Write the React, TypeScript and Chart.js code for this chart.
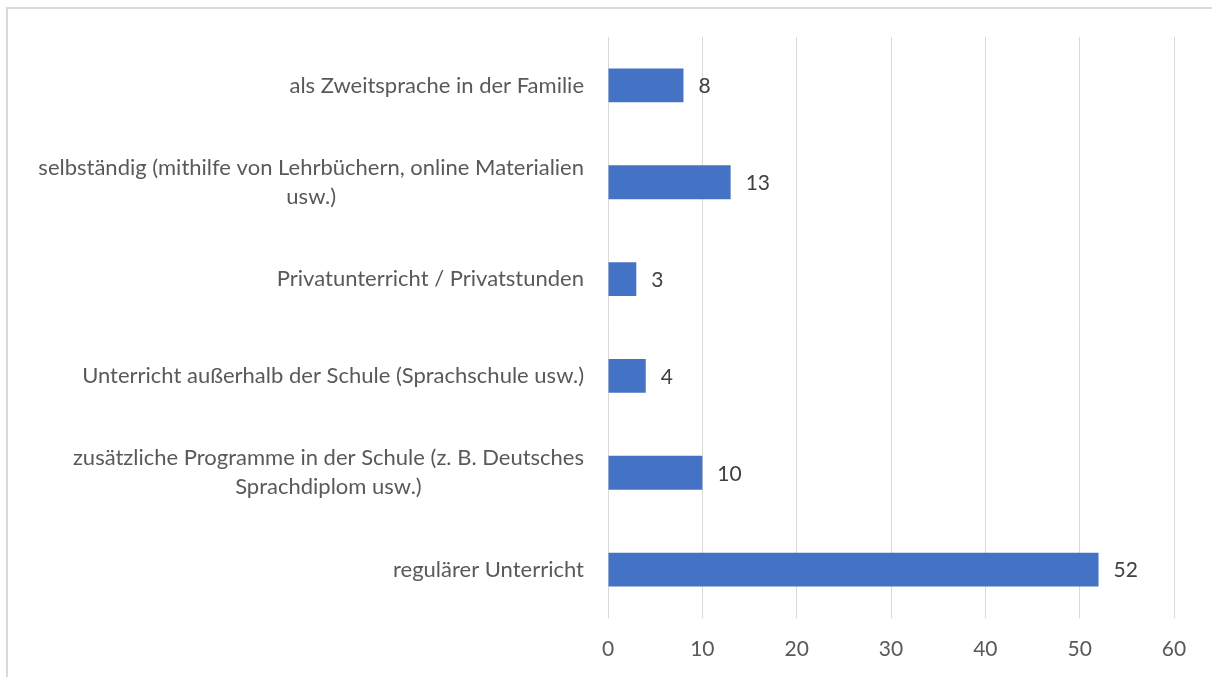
import React, { useEffect, useRef } from "react";
import { Chart, registerables } from "chart.js";

Chart.register(...registerables);

const categories: string[][] = [
  ["als Zweitsprache in der Familie"],
  ["selbständig (mithilfe von Lehrbüchern, online Materialien", "usw.)"],
  ["Privatunterricht / Privatstunden"],
  ["Unterricht außerhalb der Schule (Sprachschule usw.)"],
  ["zusätzliche Programme in der Schule (z. B. Deutsches", "Sprachdiplom usw.)"],
  ["regulärer Unterricht"],
];
const values: number[] = [8, 13, 3, 4, 10, 52];
const xTicks: number[] = [0, 10, 20, 30, 40, 50, 60];

const FONT = "Lato, 'Open Sans', sans-serif";
const LABEL_SIZE = 22;
const LINE_GAP = 29;

const valueLabels = {
  id: "valueLabels",
  afterDatasetsDraw(chart: any) {
    const ctx = chart.ctx;
    const meta = chart.getDatasetMeta(0);
    ctx.save();
    ctx.font = `21px ${FONT}`;
    ctx.fillStyle = "#404040";
    ctx.textAlign = "left";
    ctx.textBaseline = "middle";
    meta.data.forEach((bar: any, i: number) => {
      ctx.fillText(String(values[i]), bar.x + 15, bar.y + 1);
    });
    ctx.restore();
  },
};

const categoryLabels = {
  id: "categoryLabels",
  afterDraw(chart: any) {
    const ctx = chart.ctx;
    const yScale = chart.scales.y;
    const right = chart.chartArea.left - 24;
    ctx.save();
    ctx.font = `${LABEL_SIZE}px ${FONT}`;
    ctx.fillStyle = "#595959";
    ctx.textAlign = "center";
    ctx.textBaseline = "middle";
    categories.forEach((lines, i) => {
      const yc = yScale.getPixelForTick(i);
      const maxW = Math.max(...lines.map((l) => ctx.measureText(l).width));
      const cx = right - maxW / 2;
      const y0 = yc - ((lines.length - 1) * LINE_GAP) / 2;
      lines.forEach((l, j) => ctx.fillText(l, cx, y0 + j * LINE_GAP));
    });
    ctx.restore();
  },
};

export default function App() {
  const ref = useRef<HTMLCanvasElement>(null);
  useEffect(() => {
    if (!ref.current) return;
    const chart = new Chart(ref.current, {
      type: "bar",
      data: {
        labels: categories.map((c) => c.join(" ")),
        datasets: [
          {
            data: values,
            backgroundColor: "#4472C4",
            barPercentage: 0.35,
            categoryPercentage: 1,
          },
        ],
      },
      options: {
        indexAxis: "y",
        animation: false,
        responsive: false,
        maintainAspectRatio: false,
        layout: { padding: { left: 0, right: 38, top: 37, bottom: 0 } },
        plugins: {
          legend: { display: false },
          tooltip: { enabled: false },
        },
        scales: {
          x: {
            min: 0,
            max: 60,
            afterBuildTicks(scale: any) {
              scale.ticks = xTicks.map((v) => ({ value: v }));
            },
            afterFit(scale: any) {
              scale.height = 59;
            },
            grid: { color: "#d9d9d9", lineWidth: 1, drawTicks: false },
            border: { display: false },
            ticks: {
              padding: 19,
              color: "#595959",
              font: { family: FONT, size: 21 },
            },
          },
          y: {
            afterFit(scale: any) {
              scale.width = 608;
            },
            grid: { display: false, drawTicks: false },
            border: { display: false },
            ticks: { display: false },
          },
        },
      },
      plugins: [valueLabels, categoryLabels],
    });
    return () => chart.destroy();
  }, []);

  return (
    <div style={{ position: "fixed", left: 0, top: 0, width: 1212, height: 677, overflow: "hidden", background: "#fff" }}>
      <div
        style={{
          position: "absolute",
          left: 6,
          top: 7,
          width: 1300,
          height: 800,
          borderLeft: "2px solid #d9d9d9",
          borderTop: "2px solid #d9d9d9",
        }}
      />
      <canvas ref={ref} width={1212} height={677} style={{ position: "absolute", left: 0, top: 0 }} />
    </div>
  );
}
